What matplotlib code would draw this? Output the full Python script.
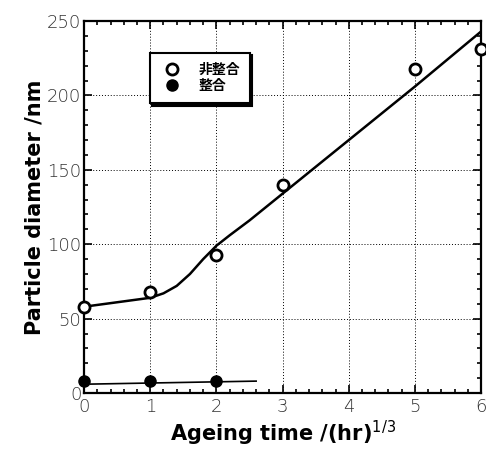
import matplotlib
matplotlib.use("Agg")
import matplotlib.pyplot as plt
import numpy as np
from matplotlib.ticker import MultipleLocator

# data
open_x = [0, 1, 2, 3, 5, 6]
open_y = [58, 68, 93, 140, 218, 231]
filled_x = [0, 1, 2]
filled_y = [8, 8, 8]
# fitted curve
fit_open_x = [0, 0.5, 1.0, 1.2, 1.4, 1.6, 1.8, 2.0, 2.2, 2.5, 3, 4, 5, 6]
fit_open_y = [58, 61, 64, 67, 72, 80, 90, 99, 106, 116, 134, 170, 206, 243]
fit_filled_x = [0.1, 2.6]
fit_filled_y = [6, 8]
legend_labels = ["非整合", "整合"]

plt.rcParams['font.family'] = ['Noto Sans CJK JP', 'DejaVu Sans']

fig = plt.figure(figsize=(4.86, 4.57), dpi=100)
ax = fig.add_axes([0.173, 0.14, 0.817, 0.814])

ax.plot(fit_open_x, fit_open_y, color='black', lw=1.8, zorder=2)
ax.plot(fit_filled_x, fit_filled_y, color='black', lw=1.2, zorder=2)
h1, = ax.plot(open_x, open_y, 'o', mfc='white', mec='black', mew=2, ms=8, clip_on=False, zorder=3)
h2, = ax.plot(filled_x, filled_y, 'o', mfc='black', mec='black', ms=8, clip_on=False, zorder=3)

ax.set_xlim(0, 6)
ax.set_ylim(0, 250)
ax.xaxis.set_major_locator(MultipleLocator(1))
ax.xaxis.set_minor_locator(MultipleLocator(0.2))
ax.yaxis.set_major_locator(MultipleLocator(50))
ax.yaxis.set_minor_locator(MultipleLocator(10))
ax.tick_params(which='both', direction='in', top=True, right=True, width=1.2)
ax.tick_params(which='major', length=6, labelsize=13, labelcolor='#333333')
ax.tick_params(which='minor', length=3)
ax.tick_params(axis='y', pad=2)
for lab in ax.get_xticklabels() + ax.get_yticklabels():
    lab.set_fontfamily('DejaVu Sans')
    lab.set_fontweight('light')
for s in ax.spines.values():
    s.set_linewidth(1.6)
ax.grid(True, which='major', ls=(0, (1, 2)), color='black', lw=0.7)

ax.set_xlabel('Ageing time /(hr)$^{1/3}$', fontsize=15, fontweight='bold', family='DejaVu Sans', labelpad=2)
ax.set_ylabel('Particle diameter /nm', fontsize=15, fontweight='bold', family='DejaVu Sans', labelpad=2)

leg = ax.legend([h1, h2], legend_labels, loc='upper left', bbox_to_anchor=(0.165, 0.915),
                fancybox=False, shadow={'color': 'black', 'alpha': 1, 'ox': 2, 'oy': -2},
                framealpha=1, edgecolor='black',
                handletextpad=1.0, borderpad=0.7, labelspacing=0.2, handlelength=1.8,
                borderaxespad=0,
                prop={'family': ['Noto Sans CJK JP'], 'weight': 'bold', 'size': 10})
leg.get_frame().set_linewidth(1.5)

fig.savefig('out.png', dpi=100)
